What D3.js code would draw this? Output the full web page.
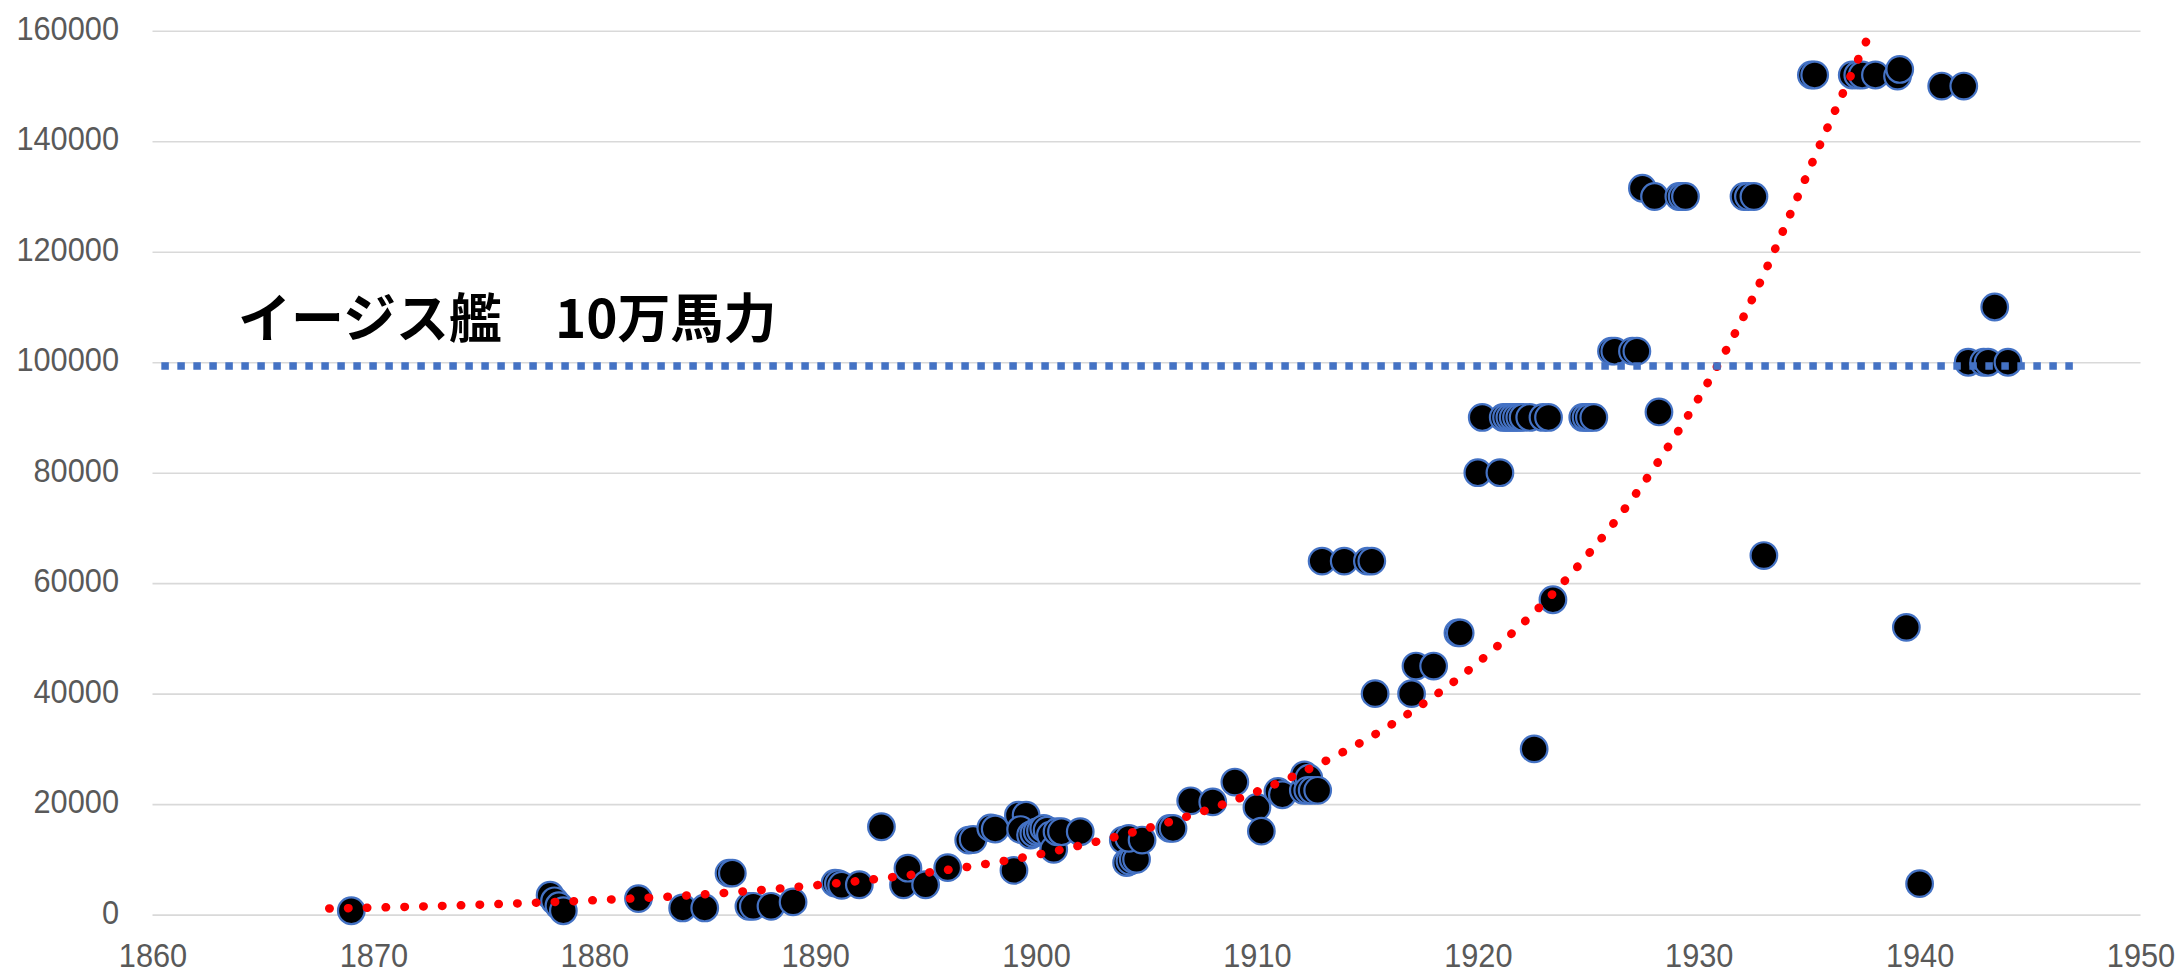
<!DOCTYPE html>
<html>
<head>
<meta charset="utf-8">
<script src="https://cdn.jsdelivr.net/npm/d3@7"></script>
<style>
  body { margin: 0; background: #fff; }
  svg { display: block; }
</style>
</head>
<body>
<div id="chart"></div>
<script>
// warship launch year vs horsepower
const years = [
  1869, 1878.0, 1878.2, 1878.4, 1878.6, 1882.0, 1884.0, 1885.0, 1886.1, 1886.25,
  1887.0, 1887.2, 1888.0, 1889.0, 1890.9, 1891.05, 1891.2, 1892.0, 1893.0, 1894.0,
  1894.2, 1895.0, 1896.0, 1896.95, 1897.15, 1897.95, 1898.15, 1899.0, 1899.2, 1899.55,
  1899.3, 1899.75, 1899.9, 1900.05, 1900.2, 1900.35, 1900.5, 1900.65, 1900.8, 1900.95,
  1901.15, 1902.0, 1903.95, 1904.1, 1904.25, 1904.4, 1904.55, 1904.2, 1904.8, 1906.05,
  1906.2, 1907.0, 1908.0, 1909.0, 1910.0, 1910.2, 1910.95, 1911.15, 1912.1, 1912.15,
  1912.35, 1912.3, 1912.5, 1912.75, 1912.95, 1913.95, 1915.0, 1915.2, 1915.35, 1917.0,
  1917.2, 1918.0, 1919.1, 1919.2, 1920.0, 1921.0, 1920.2, 1921.15, 1921.3, 1921.45,
  1921.6, 1921.75, 1921.9, 1922.05, 1922.35, 1922.95, 1923.2, 1922.55, 1923.4, 1924.75,
  1924.9, 1925.05, 1925.25, 1926.05, 1926.2, 1927.0, 1927.2, 1927.45, 1928.0, 1928.2,
  1929.1, 1929.25, 1929.4, 1932.05, 1932.25, 1932.5, 1932.95, 1935.1, 1935.25, 1936.95,
  1937.2, 1937.4, 1938.0, 1939.0, 1939.1, 1939.4, 1940.0, 1941.0, 1942.0, 1942.2,
  1942.9, 1943.1, 1943.4, 1944.0
]
const horsepower = [
  700, 3500, 2500, 1600, 700, 2900, 1200, 1200, 7500, 7500,
  1500, 1500, 1500, 2300, 5700, 5600, 5300, 5400, 15900, 5400,
  8400, 5400, 8500, 13500, 13600, 15700, 15500, 8000, 18000, 18000,
  15400, 14400, 14700, 15000, 15200, 15600, 15300, 14400, 11800, 15000,
  15000, 15000, 13500, 9400, 9700, 10000, 10000, 13800, 13500, 15600,
  15600, 20600, 20400, 24000, 19400, 15100, 22300, 21700, 22500, 25300,
  24700, 22500, 22500, 22500, 64000, 64000, 64000, 64000, 40000, 40000,
  45000, 45000, 51000, 51000, 80000, 80000, 90000, 90000, 90000, 90000,
  90000, 90000, 90000, 90000, 90000, 90000, 90000, 30000, 57000, 90000,
  90000, 90000, 90000, 102000, 102000, 102000, 102000, 131500, 130000, 91000,
  130000, 130000, 130000, 130000, 130000, 130000, 65000, 152000, 152000, 152000,
  152000, 152000, 152000, 151800, 153000, 52000, 5600, 150000, 150000, 100000,
  100000, 100000, 110000, 100000
]

// red trend line, read at a few years
const trendYears = [1868, 1872, 1876, 1880, 1884, 1888, 1892, 1896, 1900, 1904, 1908, 1912, 1916, 1920, 1924, 1928, 1932, 1936, 1937.8]
const trendHp = [1100, 1450, 1950, 2600, 3400, 4600, 6100, 8100, 10800, 14500, 19300, 25700, 34200, 45600, 60700, 81000, 108000, 144000, 160000]

// blue dotted reference line
const aegisYears = [1860.4, 1947]
const aegisHp = 99300
const aegisLabel = 'イージス艦　10万馬力'

const xTicks = [1860, 1870, 1880, 1890, 1900, 1910, 1920, 1930, 1940, 1950]
const yTicks = [0, 20000, 40000, 60000, 80000, 100000, 120000, 140000, 160000]

const margin = { top: 30.8, left: 152.5, right: 42.5, bottom: 58.4 }
const width = 2183 - margin.left - margin.right
const height = 973 - margin.top - margin.bottom

const svg = d3
  .select('#chart')
  .append('svg')
  .attr('width', 2183)
  .attr('height', 973)

const g = svg
  .append('g')
  .attr('transform', 'translate(' + margin.left + ',' + margin.top + ')')

const xScale = d3.scaleLinear().domain([1860, 1950]).range([0, width])
const yScale = d3.scaleLinear().domain([0, 160000]).range([height, 0])

const labelFont = '"Liberation Sans", Arial, sans-serif'

// gridlines + y labels
const yAxis = g
  .append('g')
  .call(
    d3
      .axisLeft(yScale)
      .tickValues(yTicks)
      .tickSize(-width)
      .tickPadding(33.5)
      .tickFormat(d3.format('d'))
  )
yAxis.select('.domain').remove()
yAxis
  .selectAll('line')
  .attr('stroke', '#d9d9d9')
  .attr('stroke-width', 1.6)
yAxis
  .selectAll('text')
  .attr('dy', 8.6)
  .attr('fill', '#595959')
  .style('font-family', labelFont)
  .style('font-size', '33px')
  .attr('textLength', function() {
    return this.textContent.length * 17.1
  })
  .attr('lengthAdjust', 'spacingAndGlyphs')

// x labels
const xAxis = g
  .append('g')
  .attr('transform', 'translate(0,' + height + ')')
  .call(
    d3
      .axisBottom(xScale)
      .tickValues(xTicks)
      .tickSize(0)
      .tickFormat(d3.format('d'))
  )
xAxis.select('.domain').remove()
xAxis
  .selectAll('text')
  .attr('y', 0)
  .attr('dy', 52.6)
  .attr('fill', '#595959')
  .style('font-family', labelFont)
  .style('font-size', '33px')
  .attr('textLength', function() {
    return this.textContent.length * 17.1
  })
  .attr('lengthAdjust', 'spacingAndGlyphs')

// scatter
g.append('g')
  .selectAll('circle')
  .data(years)
  .enter()
  .append('circle')
  .attr('cx', d => xScale(d))
  .attr('cy', (d, i) => yScale(horsepower[i]))
  .attr('r', 13.3)
  .attr('fill', '#000')
  .attr('stroke', '#4472c4')
  .attr('stroke-width', 2.2)

// trend
const trendLine = d3
  .line()
  .x(d => xScale(d))
  .y((d, i) => yScale(trendHp[i]))
  .curve(d3.curveMonotoneX)

g.append('path')
  .datum(trendYears)
  .attr('d', trendLine)
  .attr('fill', 'none')
  .attr('stroke', '#ff0000')
  .attr('stroke-width', 8.5)
  .attr('stroke-linecap', 'round')
  .attr('stroke-dasharray', '0.5 18.3')

// aegis line
g.append('line')
  .attr('x1', xScale(aegisYears[0]))
  .attr('x2', xScale(aegisYears[1]))
  .attr('y1', yScale(aegisHp))
  .attr('y2', yScale(aegisHp))
  .attr('stroke', '#4472c4')
  .attr('stroke-width', 7.5)
  .attr('stroke-dasharray', '7.5 8.5')

svg
  .append('text')
  .text(aegisLabel)
  .attr('x', 238)
  .attr('y', 338)
  .attr('fill', '#000')
  .style('font-family', '"Noto Sans CJK JP", sans-serif')
  .style('font-weight', 'bold')
  .style('font-size', '53px')
</script>
</body>
</html>
